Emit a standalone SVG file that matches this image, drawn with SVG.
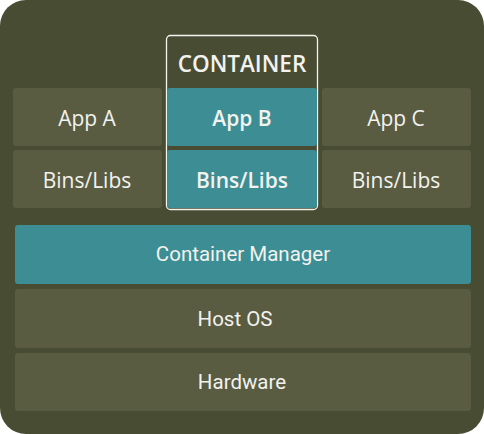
<svg xmlns="http://www.w3.org/2000/svg" width="484" height="434" viewBox="0 0 484 434">
<style>
.box{fill:#5a5c42}
.teal{fill:#3c8e94}
.t1{font-family:"Open Sans",sans-serif;font-size:21px;fill:#f2f2ee;text-anchor:middle;dominant-baseline:central}
.b{font-weight:600}
.t2{font-family:Roboto,sans-serif;font-size:20.5px;fill:#f2f2ee;text-anchor:middle;dominant-baseline:central}
</style>
<rect x="0" y="0" width="484" height="434" rx="26" fill="#484c33"/>
<g id="container">
<rect x="166.5" y="35.5" width="151" height="174" rx="4" fill="none" stroke="#f4f4ee" stroke-width="1.3"/>
<text class="t1 b" x="242" y="63" style="font-size:22.5px">CONTAINER</text>
</g>
<g id="appA"><rect class="box" x="13" y="88" width="149" height="58" rx="3"/><text class="t1" x="87" y="118">App A</text></g>
<g id="binsA"><rect class="box" x="13" y="150" width="149" height="58" rx="3"/><text class="t1" x="87" y="180">Bins/Libs</text></g>
<g id="appB"><rect class="teal" x="167" y="88" width="150" height="58" rx="3"/><text class="t1 b" x="242" y="118">App B</text></g>
<g id="binsB"><rect class="teal" x="167" y="150" width="150" height="58" rx="3"/><text class="t1 b" x="242" y="180">Bins/Libs</text></g>
<g id="appC"><rect class="box" x="322" y="88" width="149" height="58" rx="3"/><text class="t1" x="396" y="118">App C</text></g>
<g id="binsC"><rect class="box" x="322" y="150" width="149" height="58" rx="3"/><text class="t1" x="396" y="180">Bins/Libs</text></g>
<g id="manager"><rect class="teal" x="15" y="225" width="456" height="59" rx="3"/><text class="t2" x="243" y="254">Container Manager</text></g>
<g id="hostos"><rect class="box" x="15" y="289" width="456" height="59" rx="3"/><text class="t2" x="235" y="319">Host OS</text></g>
<g id="hardware"><rect class="box" x="15" y="353" width="456" height="58" rx="3"/><text class="t2" x="242" y="382">Hardware</text></g>
<g id="connectors"/>
</svg>
